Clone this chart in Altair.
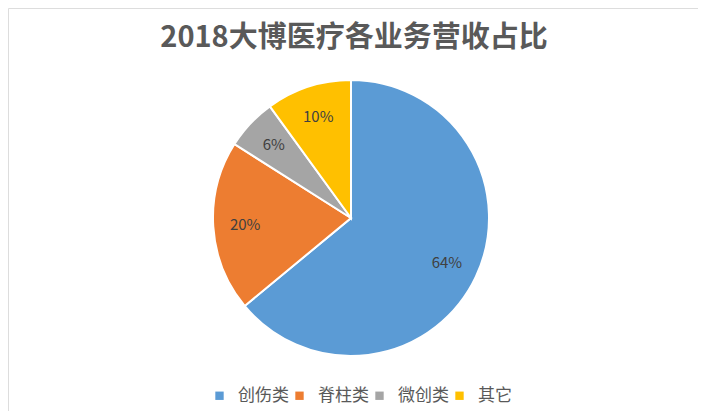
import altair as alt
import pandas as pd

categories = ["创伤类", "脊柱类", "微创类", "其它"]
shares = [64, 20, 6, 10]
colors = ["#5B9BD5", "#ED7D31", "#A5A5A5", "#FFC000"]
title_text = "2018大博医疗各业务营收占比"

df = pd.DataFrame({
    "cat": categories,
    "val": shares,
    "order": list(range(len(categories))),
    "label": [f"{v}%" for v in shares],
})

FONT = "Noto Sans CJK SC"
W, H = 690, 403
CX, CY = 343, 210

base = alt.Chart(df).encode(
    theta=alt.Theta("val:Q", stack=True),
    order=alt.Order("order:Q"),
)

arc = base.mark_arc(radius=138, stroke="white", strokeWidth=2).encode(
    x=alt.value(CX), y=alt.value(CY),
    color=alt.Color(
        "cat:N",
        scale=alt.Scale(domain=categories, range=colors),
        sort=categories,
        legend=alt.Legend(
            title=None, orient="none", direction="horizontal",
            legendX=203, legendY=379,
            symbolType="square", symbolSize=70, symbolStrokeWidth=0,
            labelFont=FONT, labelFontSize=17, labelColor="#595959",
            labelOffset=10, columnPadding=2,
        ),
    ),
)

text = base.mark_text(radius=106, font=FONT, fontSize=15, color="#404040").encode(
    x=alt.value(CX), y=alt.value(CY),
    text="label:N",
)

title = alt.Chart(pd.DataFrame({"t": [title_text]})).mark_text(
    font=FONT, fontSize=29, fontWeight="bold", color="#595959"
).encode(x=alt.value(CX + 3), y=alt.value(30), text="t:N")

chart = alt.layer(arc, text, title).properties(
    width=W, height=H, padding=0,
    autosize=alt.AutoSizeParams(type="none"),
).configure_view(strokeWidth=0, stroke="transparent").configure(background="white")

chart.save("out.html", embed_options={"renderer": "svg", "actions": False})
